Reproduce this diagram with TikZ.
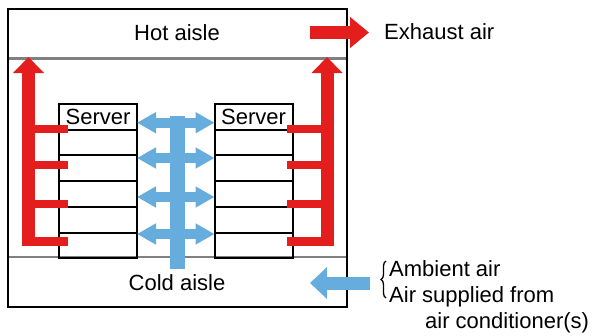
\documentclass[tikz,border=0pt]{standalone}
\usepackage{fontspec}
\setmainfont{Liberation Sans}
\usetikzlibrary{arrows.meta,positioning,decorations.pathreplacing}
\definecolor{hotred}{RGB}{228,30,28}
\definecolor{coldblue}{RGB}{102,173,222}

\begin{document}
\begin{tikzpicture}[x=1pt,y=-1pt,
        rowbox/.style={draw,line width=2pt,minimum width=78pt,minimum height=25.7pt,
            inner sep=0pt,outer sep=0pt,font=\fontsize{22}{26}\selectfont},
        lbl/.style={font=\fontsize{22}{26}\selectfont,inner sep=0pt},
        hotflow/.style={hotred,line width=13pt,-{Triangle[width=30pt,length=16pt]}},
        hotstub/.style={hotred,line width=8.5pt},
        coldflow/.style={coldblue,line width=10pt,
            {Triangle[width=20pt,length=19pt]}-{Triangle[width=20pt,length=19pt]}},
        wall/.style={gray,line width=2.5pt}]
                \useasboundingbox (0,0) rectangle (593,335);
                \draw[wall] (8,58.5) -- (347,58.5);
                \draw[wall] (8,257) -- (347,257);
                \draw[line width=2.7pt] (8,9) rectangle (347,307);
                \node[rowbox] (ls0) at (98,116.85) {Server};
                \foreach \i [remember=\i as \j (initially 0)] in {1,...,5}
                    \node[rowbox,below=0pt of ls\j] (ls\i) {};
                \node[rowbox] (rs0) at (253.5,116.85) {Server};
                \foreach \i [remember=\i as \j (initially 0)] in {1,...,5}
                    \node[rowbox,below=0pt of rs\j] (rs\i) {};
                \foreach \y in {129,165,204,241.5} {
                    \draw[hotstub] (22,\y) -- (68,\y);
                    \draw[hotstub] (287,\y) -- (333,\y);
                }
                \draw[hotflow] (28.5,246) -- (28.5,57);
                \draw[hotflow] (327,246) -- (327,57);
                \draw[hotflow,-{Triangle[width=30pt,length=19pt]}] (310,32.5) -- (369,32.5);
                \draw[coldblue,line width=15pt] (177.5,116) -- (177.5,269);
                \foreach \y in {122.7,158,197,234}
                    \draw[coldflow] (ls0.east |- 0,\y) -- (rs0.west |- 0,\y);
                \draw[coldblue,line width=13pt,-{Triangle[width=31pt,length=17pt]}] (370,283) -- (310,283);
                \node[lbl,anchor=base] (hot) at (177,40.5) {Hot aisle};
                \node[lbl,anchor=base] (cold) at (177,290.5) {Cold aisle};
                \node[lbl,anchor=base west] (exhaust) at (384,39.3) {Exhaust air};
                \node[lbl,anchor=base west] (ambient) at (389,276.5) {Ambient air};
                \node[lbl,anchor=base west] (supply) at (389,302.3) {Air supplied from};
                \node[lbl,anchor=base west] (aircon) at (425,328) {air conditioner(s)};
                \draw[line width=1.3pt,decorate,decoration={brace,amplitude=5pt}] (386,298) -- (386,261);
            \end{tikzpicture}
\end{document}
